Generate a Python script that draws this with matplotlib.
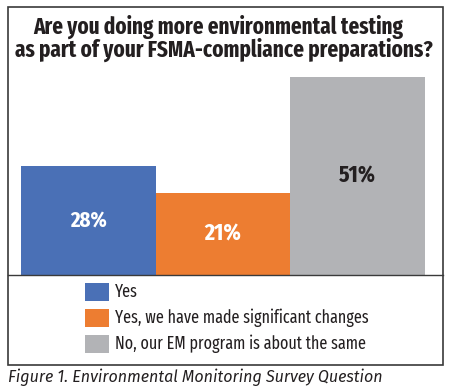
import matplotlib
matplotlib.use("Agg")
import matplotlib.pyplot as plt
from matplotlib.patches import Rectangle

categories = ["Yes", "Yes, we have made significant changes",
              "No, our EM program is about the same"]
values = [28, 21, 51]
labels = ["28%", "21%", "51%"]
title_lines = ["Are you doing more environmental testing",
               "as part of your FSMA-compliance preparations?"]
caption = "Figure 1. Environmental Monitoring Survey Question"
colors = ["#4a70b6", "#ed7d31", "#b2b3b6"]
label_colors = ["white", "white", "#231f20"]

FONT = ["Fira Sans Extra Condensed", "Fira Sans Condensed", "DejaVu Sans"]
CAP_FONT = ["Fira Sans", "DejaVu Sans"]
INK = "#231f20"

W, H = 450, 391
fig = plt.figure(figsize=(W / 100, H / 100), dpi=100)
renderer = fig.canvas.get_renderer()


def fx(px):
    return px / W


def fy(py):
    return 1 - py / H


def fit(t, width_px):
    # scale the font so the text spans the width measured on the reference
    w = t.get_window_extent(renderer).width
    t.set_fontsize(t.get_fontsize() * width_px / w)
    return t


# outer frame and separator line
fig.patches.append(Rectangle((fx(8), fy(365)), fx(443) - fx(8), fy(7) - fy(365),
                             transform=fig.transFigure, fill=False,
                             edgecolor="#3a3a3a", linewidth=1.2))
fig.add_artist(plt.Line2D([fx(8), fx(443)], [fy(275), fy(275)],
                          transform=fig.transFigure, color="#3a3a3a", linewidth=1.0))

ax = fig.add_axes([fx(21), fy(275), fx(425) - fx(21), fy(65) - fy(275)])
x = range(len(values))
ax.bar(x, values, width=1.0, color=colors, edgecolor="none")
ax.set_xlim(-0.5, 2.5)
ax.set_ylim(0, 54)
ax.axis("off")
for i, v in enumerate(values):
    t = ax.text(i, v / 2, labels[i], ha="center", va="center", color=label_colors[i],
                fontsize=14, fontweight="bold", family=FONT, fontstretch="condensed")
    fit(t, 37)

t1 = fig.text(fx(218), fy(27), title_lines[0], ha="center", va="center",
              fontsize=16, fontweight="bold", color=INK, family=FONT,
              fontstretch="condensed")
fit(t1, 370)
t2 = fig.text(fx(224), fy(50), title_lines[1], ha="center", va="center",
              fontsize=16, fontweight="bold", color=INK, family=FONT,
              fontstretch="condensed")
fit(t2, 418)

# legend
rows_y = [292, 318, 344]
leg_texts = []
for c, name, yy in zip(colors, categories, rows_y):
    fig.patches.append(Rectangle((fx(85), fy(yy + 9)), fx(109) - fx(85), fy(yy - 9) - fy(yy + 9),
                                 transform=fig.transFigure, facecolor=c, edgecolor="none"))
    leg_texts.append(fig.text(fx(115), fy(yy), name, ha="left", va="center", fontsize=13,
                              color=INK, family=FONT, fontstretch="condensed"))
fit(leg_texts[1], 255)
for t in leg_texts:
    t.set_fontsize(leg_texts[1].get_fontsize())

cap = fig.text(fx(8), fy(377), caption, ha="left", va="center", fontsize=12,
               style="italic", color=INK, family=CAP_FONT)
fit(cap, 375)

fig.savefig("out.png", dpi=100)
